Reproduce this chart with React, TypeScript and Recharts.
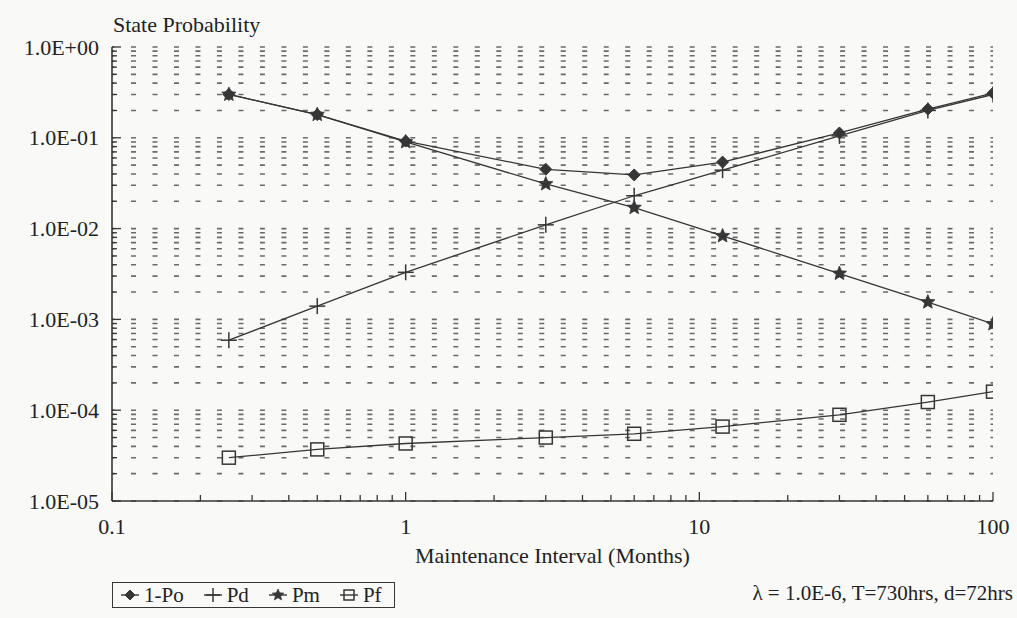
import { LineChart, Line, XAxis, YAxis, CartesianGrid } from 'recharts'

// maintenance interval (months) and state probabilities
const months = [0.25, 0.5, 1, 3, 6, 12, 30, 60, 100]
const onePo = [0.3, 0.18, 0.092, 0.045, 0.039, 0.054, 0.113, 0.207, 0.31]
const pd = [0.00059, 0.0014, 0.0033, 0.011, 0.023, 0.044, 0.105, 0.2, 0.3]
const pm = [0.3, 0.18, 0.09, 0.031, 0.017, 0.0083, 0.0032, 0.00155, 0.00089]
const pf = [0.00003, 0.000037, 0.000043, 0.00005, 0.000055, 0.000066, 0.000089, 0.000123, 0.00016]

const xDecades = [0.1, 1, 10, 100]
const xTickLabels = ['0.1', '1', '10', '100']
const yDecades = [1e-5, 1e-4, 1e-3, 1e-2, 1e-1, 1]
const yTickLabels = ['1.0E-05', '1.0E-04', '1.0E-03', '1.0E-02', '1.0E-01', '1.0E+00']
const multipliers = [1, 2, 3, 4, 5, 6, 7, 8, 9]

const xMinor = xDecades.slice(0, -1).flatMap(d => multipliers.map(k => d * k)).concat(xDecades[xDecades.length - 1])
const yMinor = yDecades.slice(0, -1).flatMap(d => multipliers.map(k => d * k)).concat(yDecades[yDecades.length - 1])

const data = months.map((m, i) => ({ m, onePo: onePo[i], pd: pd[i], pm: pm[i], pf: pf[i] }))

const W = 1017
const H = 618
const LEFT = 112
const RIGHT = 993
const TOP = 47
const BOTTOM = 501
const INK = '#363636'
const FONT = '"Liberation Serif", "Times New Roman", serif'
const GRID_PERIOD = (RIGHT - LEFT) / 41

const BottomTick = (props: any) => {
  const { x, y, payload } = props
  const i = xDecades.indexOf(payload.value)
  return (
    <g>
      <line x1={x} y1={y} x2={x} y2={y - (i >= 0 ? 9 : 6)} stroke={INK} strokeWidth={1.3} />
      {i >= 0 && (
        <text x={x} y={y + 25} textAnchor="middle" dominantBaseline="central" fontFamily={FONT} fontSize={22} fill="#222">
          {xTickLabels[i]}
        </text>
      )}
    </g>
  )
}

const LeftTick = (props: any) => {
  const { x, y, payload } = props
  const i = yDecades.indexOf(payload.value)
  return (
    <g>
      <line x1={x} y1={y} x2={x + (i >= 0 ? 9 : 5)} y2={y} stroke={INK} strokeWidth={1.3} />
      {i >= 0 && (
        <text x={x - 13} y={y} textAnchor="end" dominantBaseline="central" fontFamily={FONT} fontSize={22} fill="#222">
          {yTickLabels[i]}
        </text>
      )}
    </g>
  )
}

const RightTick = (props: any) => {
  const { x, y } = props
  return <line x1={x} y1={y} x2={x - 5} y2={y} stroke={INK} strokeWidth={1.3} />
}

const Diamond = ({ cx, cy, s = 6 }: any) => (
  <polygon points={`${cx},${cy - s} ${cx + s},${cy} ${cx},${cy + s} ${cx - s},${cy}`} fill={INK} stroke={INK} />
)

const Plus = ({ cx, cy, s = 8 }: any) => (
  <g stroke={INK} strokeWidth={1.5}>
    <line x1={cx - s} y1={cy} x2={cx + s} y2={cy} />
    <line x1={cx} y1={cy - s} x2={cx} y2={cy + s} />
  </g>
)

const Star = ({ cx, cy, s = 7.5 }: any) => {
  const pts = []
  for (let k = 0; k < 10; k++) {
    const r = k % 2 === 0 ? s : s * 0.45
    const a = -Math.PI / 2 + (k * Math.PI) / 5
    pts.push(`${cx + r * Math.cos(a)},${cy + r * Math.sin(a)}`)
  }
  return <polygon points={pts.join(' ')} fill={INK} stroke={INK} strokeWidth={0.8} />
}

const Square = ({ cx, cy, s = 6.5 }: any) => (
  <rect x={cx - s} y={cy - s} width={s * 2} height={s * 2} fill="none" stroke={INK} strokeWidth={1.5} />
)

const dotOf = (Shape: any) => (p: any) => <Shape key={`${p.dataKey}-${p.index}`} cx={p.cx} cy={p.cy} />

const legendItems = [
  { name: '1-Po', Shape: Diamond, s: 5 },
  { name: 'Pd', Shape: Plus, s: 7 },
  { name: 'Pm', Shape: Star, s: 6 },
  { name: 'Pf', Shape: Square, s: 5 },
]

const textStyle = (left: number, top: number, size: number, extra: any = {}) => ({
  position: 'absolute' as const,
  left,
  top,
  transform: 'translateY(-50%)',
  fontFamily: FONT,
  fontSize: size,
  lineHeight: 1,
  color: '#222',
  whiteSpace: 'nowrap' as const,
  ...extra,
})

export default function App() {
  return (
    <div style={{ position: 'absolute', left: 0, top: 0, width: W, height: H, background: '#f9f9f8', overflow: 'hidden' }}>
      <LineChart width={W} height={H} data={data} margin={{ top: TOP, right: W - RIGHT, bottom: 0, left: 0 }}>
        <CartesianGrid
          vertical={false}
          stroke="#6a6a6a"
          strokeWidth={1.6}
          strokeDasharray={`2.5 ${GRID_PERIOD - 5} 2.5 0`}
        />
        <XAxis
          dataKey="m"
          type="number"
          scale="log"
          domain={[0.1, 100]}
          allowDataOverflow
          ticks={xMinor}
          interval={0}
          height={H - BOTTOM}
          tickSize={0}
          tickMargin={0}
          tick={<BottomTick />}
          axisLine={{ stroke: INK, strokeWidth: 1.6 }}
          tickLine={false}
          label={{ value: 'Maintenance Interval (Months)', position: 'insideTop', offset: 46, fontFamily: FONT, fontSize: 22, fill: '#222' }}
        />
        <XAxis
          xAxisId="top"
          orientation="top"
          type="number"
          scale="log"
          domain={[0.1, 100]}
          allowDataOverflow
          height={0}
          tick={false}
          tickLine={false}
          axisLine={{ stroke: INK, strokeWidth: 1.6 }}
        />
        <YAxis
          type="number"
          scale="log"
          domain={[1e-5, 1]}
          allowDataOverflow
          ticks={yMinor}
          interval={0}
          width={LEFT}
          tickSize={0}
          tickMargin={0}
          tick={<LeftTick />}
          axisLine={{ stroke: INK, strokeWidth: 1.6 }}
          tickLine={false}
        />
        <YAxis
          yAxisId="right"
          orientation="right"
          type="number"
          scale="log"
          domain={[1e-5, 1]}
          allowDataOverflow
          ticks={yMinor}
          interval={0}
          width={0}
          tickSize={0}
          tickMargin={0}
          tick={<RightTick />}
          axisLine={{ stroke: INK, strokeWidth: 1.6 }}
          tickLine={false}
        />
        <Line dataKey="onePo" type="linear" stroke={INK} strokeWidth={1.3} dot={dotOf(Diamond)} isAnimationActive={false} />
        <Line dataKey="pd" type="linear" stroke={INK} strokeWidth={1.3} dot={dotOf(Plus)} isAnimationActive={false} />
        <Line dataKey="pm" type="linear" stroke={INK} strokeWidth={1.3} dot={dotOf(Star)} isAnimationActive={false} />
        <Line dataKey="pf" type="linear" stroke={INK} strokeWidth={1.3} dot={dotOf(Square)} isAnimationActive={false} />
      </LineChart>

      <div style={textStyle(113, 25, 22)}>State Probability</div>

      <div
        style={{
          position: 'absolute',
          left: 112,
          top: 582,
          height: 24,
          padding: '0 12px 0 6px',
          border: `1.5px solid ${INK}`,
          display: 'flex',
          alignItems: 'center',
          gap: 18,
          fontFamily: FONT,
          fontSize: 21,
          color: '#222',
          background: '#f9f9f8',
        }}
      >
        {legendItems.map(({ name, Shape, s }) => (
          <span key={name} style={{ display: 'flex', alignItems: 'center' }}>
            <svg width={22} height={18}>
              <line x1={2} y1={9} x2={20} y2={9} stroke={INK} strokeWidth={1.4} />
              <Shape cx={11} cy={9} s={s} />
            </svg>
            <span style={{ marginLeft: 3 }}>{name}</span>
          </span>
        ))}
      </div>

      <div style={textStyle(0, 593, 21, { left: 'auto', right: 4 })}>λ = 1.0E-6, T=730hrs, d=72hrs</div>
    </div>
  )
}
